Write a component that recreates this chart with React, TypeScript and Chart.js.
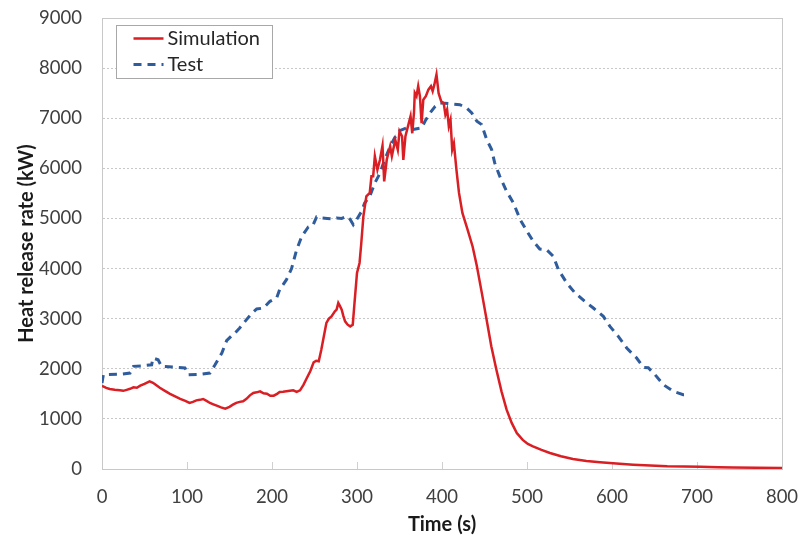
import React, { useEffect, useRef } from "react";
import { Chart, registerables } from "chart.js";

Chart.register(...registerables);

const simTime = [0, 5, 9, 15, 21, 25, 29, 33, 37, 41, 45, 50, 56, 60, 64, 68, 74, 80, 86, 92, 98, 103, 107, 111, 115, 119, 123, 127, 131, 135, 140, 145, 150, 154, 158, 162, 166, 170, 174, 178, 182, 186, 190, 194, 198, 202, 206, 209, 213, 217, 221, 225, 229, 233, 237, 241, 245, 249, 252, 255, 258, 261, 264, 267, 270, 274, 276, 278, 280, 282, 284, 286, 289, 292, 295, 297, 300, 303, 305, 307.5, 311, 315, 317, 319, 321, 324, 327, 330, 332, 335, 339, 341, 345, 348, 350, 353, 354.5, 357, 361, 363, 365, 367, 368, 370, 372, 374, 376, 378, 381, 384, 387, 389, 391, 393.5, 396, 399, 402, 404, 406, 408, 410, 412, 414, 417, 420, 424, 430, 436, 441, 447, 452.5, 458, 464, 470, 476, 482, 488, 495, 501, 507, 517, 527, 540, 554, 570, 586, 605, 625, 645, 665, 685, 704, 725, 743, 770, 800];
const simHRR = [1660, 1620, 1597, 1580, 1570, 1560, 1580, 1600, 1630, 1620, 1663, 1700, 1750, 1720, 1670, 1620, 1560, 1500, 1450, 1400, 1360, 1320, 1340, 1370, 1380, 1397, 1360, 1317, 1290, 1264, 1230, 1204, 1240, 1284, 1320, 1340, 1350, 1400, 1470, 1517, 1530, 1550, 1510, 1503, 1460, 1463, 1500, 1537, 1540, 1550, 1560, 1570, 1540, 1570, 1680, 1816, 1950, 2128, 2160, 2150, 2381, 2650, 2914, 3000, 3046, 3146, 3180, 3313, 3250, 3180, 3050, 2946, 2880, 2846, 2880, 3300, 3912, 4112, 4500, 5042, 5441, 5510, 5840, 5840, 6240, 5970, 6170, 6450, 5740, 6170, 6440, 6240, 6570, 6370, 6740, 6640, 6170, 6640, 6906, 7040, 6700, 7100, 7505, 7440, 7640, 7440, 6900, 7370, 7440, 7570, 7640, 7540, 7670, 7870, 7500, 7340, 7300, 7070, 7170, 6840, 6970, 6370, 6500, 5970, 5510, 5110, 4780, 4440, 4050, 3500, 2980, 2450, 1982, 1550, 1184, 920, 719, 580, 500, 452, 380, 320, 255, 200, 160, 133, 108, 86, 68, 53, 48, 45, 37, 30, 25, 20];

const testTime = [0, 1.6, 21, 33, 37, 48.6, 58.4, 60, 66, 70, 88, 97.6, 101.6, 115, 127, 133, 141, 146.6, 152, 154.5, 162, 170, 176, 182, 190, 197.6, 205.5, 209, 217, 223, 229, 235, 242.7, 248, 252.5, 258, 265, 272, 276, 282, 288, 292, 295.6, 300, 305.5, 309, 315, 321, 327, 331, 339, 348.6, 358.5, 364, 376, 380, 386, 392, 397.6, 409, 421, 429, 435, 441, 446.7, 452.6, 458.4, 462, 468, 476, 484, 492, 500, 507.4, 515, 523, 531, 537, 546.7, 556.5, 568, 578, 589.8, 597.6, 607.4, 617.3, 629, 637, 642.7, 650.6, 660.4, 672, 683.8, 691.8];
const testHRR = [1716, 1882, 1890, 1916, 2048, 2060, 2080, 2215, 2180, 2048, 2030, 2016, 1882, 1890, 1916, 2080, 2314, 2560, 2650, 2680, 2814, 2980, 3100, 3193, 3213, 3346, 3413, 3579, 3778, 4000, 4377, 4643, 4830, 4856, 5030, 5010, 5000, 4990, 5010, 5000, 5042, 4980, 4876, 4990, 5142, 5309, 5441, 5708, 5900, 6100, 6440, 6740, 6806, 6770, 6806, 6940, 7106, 7238, 7305, 7290, 7270, 7205, 7106, 6940, 6872, 6573, 6374, 6108, 5840, 5541, 5309, 4976, 4743, 4543, 4391, 4377, 4244, 3978, 3713, 3513, 3346, 3213, 3046, 2846, 2647, 2415, 2215, 2028, 2020, 1882, 1683, 1550, 1483, 1483];

const seriesNames = ["Simulation", "Test"];
const xTitle = "Time (s)";
const yTitle = "Heat release rate (kW)";

const RED = "#D91E24";
const BLUE = "#2F5C9C";

const frameAndLegend = {
  id: "frameAndLegend",
  beforeDatasetsDraw(chart: any) {
    const { ctx, chartArea, scales } = chart;
    const { left, top, right, bottom } = chartArea;
    ctx.save();
    ctx.strokeStyle = "#D0D0D0";
    ctx.lineWidth = 1;
    const xs = scales.x;
    xs.ticks.forEach((t: any) => {
      if (t.value <= 0 || t.value >= 800) return;
      const px = Math.round(xs.getPixelForValue(t.value)) + 0.5;
      ctx.beginPath();
      ctx.moveTo(px, bottom);
      ctx.lineTo(px, bottom - 7);
      ctx.stroke();
    });
    ctx.strokeStyle = "#C8C8C8";
    ctx.strokeRect(Math.round(left) + 0.5, Math.round(top) + 0.5, Math.round(right - left), Math.round(bottom - top));
    ctx.restore();
  },
  afterDatasetsDraw(chart: any) {
    const { ctx, chartArea } = chart;
    const { left, top } = chartArea;
    ctx.save();
    const bx = Math.round(left + 14) + 0.5;
    const by = Math.round(top + 6.5) + 0.5;
    ctx.fillStyle = "#ffffff";
    ctx.fillRect(bx, by, 156, 53);
    ctx.strokeStyle = "#A8A8A8";
    ctx.lineWidth = 1;
    ctx.strokeRect(bx, by, 156, 53);
    const ds = chart.data.datasets;
    const rows = [by + 13, by + 39];
    ds.forEach((d: any, i: number) => {
      const y = rows[i];
      ctx.beginPath();
      ctx.strokeStyle = d.borderColor;
      ctx.lineWidth = d.borderWidth;
      ctx.setLineDash(d.borderDash || []);
      ctx.moveTo(bx + 17, y);
      ctx.lineTo(bx + 47, y);
      ctx.stroke();
      ctx.setLineDash([]);
      ctx.fillStyle = "#262626";
      ctx.font = "20px Lato";
      ctx.textBaseline = "middle";
      ctx.textAlign = "left";
      ctx.fillText(d.label, bx + 51, y);
    });
    ctx.restore();
  },
};

export default function App() {
  const ref = useRef<HTMLCanvasElement | null>(null);
  useEffect(() => {
    if (!ref.current) return;
    const chart = new Chart(ref.current, {
      type: "line",
      data: {
        datasets: [
          {
            label: seriesNames[0],
            data: simTime.map((t, i) => ({ x: t, y: simHRR[i] })),
            borderColor: RED,
            backgroundColor: RED,
            borderWidth: 2.5,
            pointRadius: 0,
            tension: 0,
          },
          {
            label: seriesNames[1],
            data: testTime.map((t, i) => ({ x: t, y: testHRR[i] })),
            borderColor: BLUE,
            backgroundColor: BLUE,
            borderWidth: 3,
            borderDash: [8, 6],
            pointRadius: 0,
            tension: 0,
          },
        ],
      },
      options: {
        animation: false,
        responsive: false,
        maintainAspectRatio: false,
        layout: { padding: { top: 18, right: 19, left: 0, bottom: 0 } },
        plugins: {
          legend: { display: false },
          tooltip: { enabled: false },
        },
        scales: {
          x: {
            type: "linear",
            min: 0,
            max: 800,
            ticks: {
              stepSize: 100,
              padding: 17,
              color: "#404040",
              font: { family: "Lato", size: 18.5 },
              callback: (v: any) => String(v),
            },
            grid: { display: false, drawTicks: false },
            border: { display: true, color: "#D0D0D0", width: 1 },
            title: {
              display: true,
              text: xTitle,
              color: "#1a1a1a",
              font: { family: "Lato", size: 20, weight: "bold" },
              padding: { top: 0, bottom: 2 },
            },
            afterFit(scale: any) {
              scale.height = 70;
              scale.paddingLeft = 0;
              scale.paddingRight = 0;
            },
          },
          y: {
            min: 0,
            max: 9000,
            ticks: {
              stepSize: 1000,
              padding: 20,
              color: "#404040",
              font: { family: "Lato", size: 18.5 },
              callback: (v: any) => String(v),
            },
            grid: {
              drawTicks: false,
              color: (c: any) => (c.tick && (c.tick.value === 0 || c.tick.value === 9000) ? "rgba(0,0,0,0)" : "#C8C8C8"),
              lineWidth: 1,
            },
            border: { display: true, color: "#D0D0D0", width: 1, dash: [2, 2] },
            title: {
              display: true,
              text: yTitle,
              color: "#1a1a1a",
              font: { family: "Lato", size: 20, weight: "bold" },
              padding: { top: 15, bottom: 0 },
            },
            afterFit(scale: any) {
              scale.width = 102;
              scale.paddingTop = 0;
              scale.paddingBottom = 0;
            },
          },
        },
      },
      plugins: [frameAndLegend],
    });
    return () => chart.destroy();
  }, []);
  return (
    <div style={{ position: "fixed", left: 0, top: 0, width: 801, height: 539, background: "#fff" }}>
      <canvas ref={ref} width={801} height={539} />
    </div>
  );
}
